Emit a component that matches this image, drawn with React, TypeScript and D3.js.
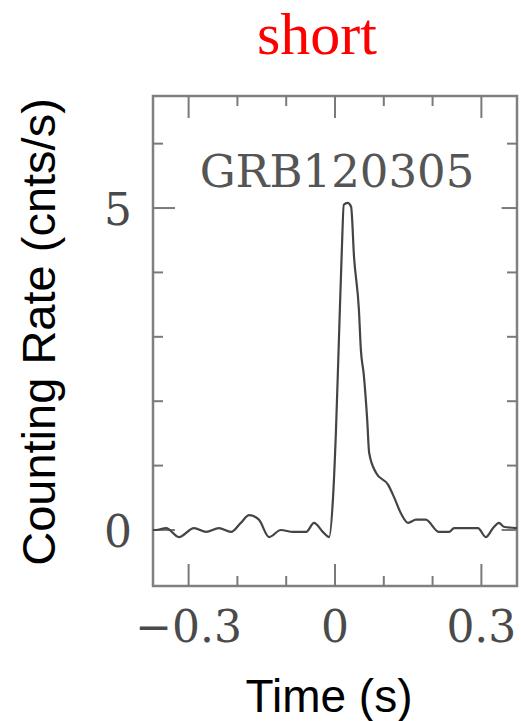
import React from "react";
import * as d3 from "d3";

const times = [
  -0.373, -0.367, -0.346, -0.32, -0.289, -0.264, -0.238, -0.213, -0.193, -0.176, -0.156, -0.135,
  -0.111, -0.086, -0.059, -0.043, -0.025, -0.012, -0.004, 0.002, 0.008, 0.014, 0.018, 0.026,
  0.033, 0.039, 0.049, 0.053, 0.059, 0.066, 0.07, 0.084, 0.109, 0.121, 0.135, 0.15, 0.166,
  0.186, 0.213, 0.234, 0.244, 0.293, 0.309, 0.324, 0.336, 0.346, 0.373,
];
const rates = [
  0.0, 0.0, 0.03, -0.11, 0.03, -0.03, 0.03, -0.03, 0.11, 0.23, 0.16, -0.11,
  0.0, -0.03, -0.03, 0.11, -0.03, -0.11, 0.51, 1.55, 2.95, 4.35, 5.05, 5.08,
  5.02, 4.24, 3.42, 2.8, 2.41, 1.71, 1.2, 0.89, 0.7, 0.51, 0.26, 0.11, 0.16,
  0.16, -0.03, -0.03, 0.03, 0.03, -0.11, 0.03, 0.11, 0.05, 0.03,
];

const xMajor = [-0.3, 0, 0.3];
const xMinor = [-0.2, -0.1, 0.1, 0.2];
const xLabels = ["\u22120.3", "0", "0.3"];
const yMajor = [0, 5];
const yMinor = [1, 2, 3, 4, 6];
const yLabels = ["0", "5"];

const title = "short";
const grbName = "GRB120305";
const xTitle = "Time (s)";
const yTitle = "Counting Rate (cnts/s)";

export default function App() {
  const W = 521;
  const H = 721;
  const x = d3.scaleLinear().domain([-0.373, 0.373]).range([153, 517]);
  const y = d3.scaleLinear().domain([-0.87, 6.74]).range([586, 96]);
  const [x0, x1] = x.range();
  const [y0, y1] = [y.range()[1], y.range()[0]]; // top, bottom

  const line = d3
    .line<number>()
    .x((_, i) => x(times[i]))
    .y((d) => y(d))
    .curve(d3.curveMonotoneX);

  const frameColor = "#808080";
  const tickColor = "#7a7a7a";
  const major = 22;
  const minor = 10;
  const labelFont = "'DejaVu Serif', serif";

  return (
    <svg
      width={W}
      height={H}
      style={{ position: "absolute", left: 0, top: 0, background: "#fff" }}
    >
      <rect x={0} y={0} width={W} height={H} fill="#fff" />
      {/* title */}
      <text
        x={317}
        y={54}
        textAnchor="middle"
        fill="#ff0000"
        fontFamily="'Liberation Serif', 'Times New Roman', serif"
        fontSize={60}
      >
        {title}
      </text>

      {/* frame */}
      <rect
        x={x0}
        y={y0}
        width={x1 - x0}
        height={y1 - y0}
        fill="none"
        stroke={frameColor}
        strokeWidth={2.5}
      />

      {/* x ticks */}
      {xMajor.map((t) => (
        <g key={"xM" + t}>
          <line x1={x(t)} x2={x(t)} y1={y1} y2={y1 - major} stroke={tickColor} strokeWidth={2} />
          <line x1={x(t)} x2={x(t)} y1={y0} y2={y0 + major} stroke={tickColor} strokeWidth={2} />
        </g>
      ))}
      {xMinor.map((t) => (
        <g key={"xm" + t}>
          <line x1={x(t)} x2={x(t)} y1={y1} y2={y1 - minor} stroke={tickColor} strokeWidth={2} />
          <line x1={x(t)} x2={x(t)} y1={y0} y2={y0 + minor} stroke={tickColor} strokeWidth={2} />
        </g>
      ))}
      {/* y ticks */}
      {yMajor.map((v) => (
        <g key={"yM" + v}>
          <line x1={x0} x2={x0 + major} y1={y(v)} y2={y(v)} stroke={tickColor} strokeWidth={2} />
          <line x1={x1} x2={x1 - major * 0.7} y1={y(v)} y2={y(v)} stroke={tickColor} strokeWidth={2} />
        </g>
      ))}
      {yMinor.map((v) => (
        <g key={"ym" + v}>
          <line x1={x0} x2={x0 + minor} y1={y(v)} y2={y(v)} stroke={tickColor} strokeWidth={2} />
          <line x1={x1} x2={x1 - minor} y1={y(v)} y2={y(v)} stroke={tickColor} strokeWidth={2} />
        </g>
      ))}

      {/* tick labels */}
      {xMajor.map((t, i) => (
        <text
          key={"xl" + t}
          x={x(t)}
          y={642}
          textAnchor="middle"
          fill="#4a4a4a"
          fontFamily={labelFont}
          fontSize={44}
        >
          {xLabels[i]}
        </text>
      ))}
      {yMajor.map((v, i) => (
        <text
          key={"yl" + v}
          x={132}
          y={y(v) + 17}
          textAnchor="end"
          fill="#4a4a4a"
          fontFamily={labelFont}
          fontSize={44}
        >
          {yLabels[i]}
        </text>
      ))}

      {/* GRB name */}
      <text
        x={337}
        y={187}
        textAnchor="middle"
        fill="#555"
        fontFamily={labelFont}
        fontSize={45}
      >
        {grbName}
      </text>

      {/* light curve */}
      <path d={line(rates) || ""} fill="none" stroke="#444" strokeWidth={2.2} strokeLinejoin="round" />

      {/* axis titles */}
      <text
        x={329}
        y={712}
        textAnchor="middle"
        fill="#000"
        fontFamily="'Liberation Sans', Arial, sans-serif"
        fontSize={46}
      >
        {xTitle}
      </text>
      <text
        transform={`translate(55,332) rotate(-90)`}
        textAnchor="middle"
        fill="#000"
        fontFamily="'Liberation Sans', Arial, sans-serif"
        fontSize={47}
      >
        {yTitle}
      </text>
    </svg>
  );
}
